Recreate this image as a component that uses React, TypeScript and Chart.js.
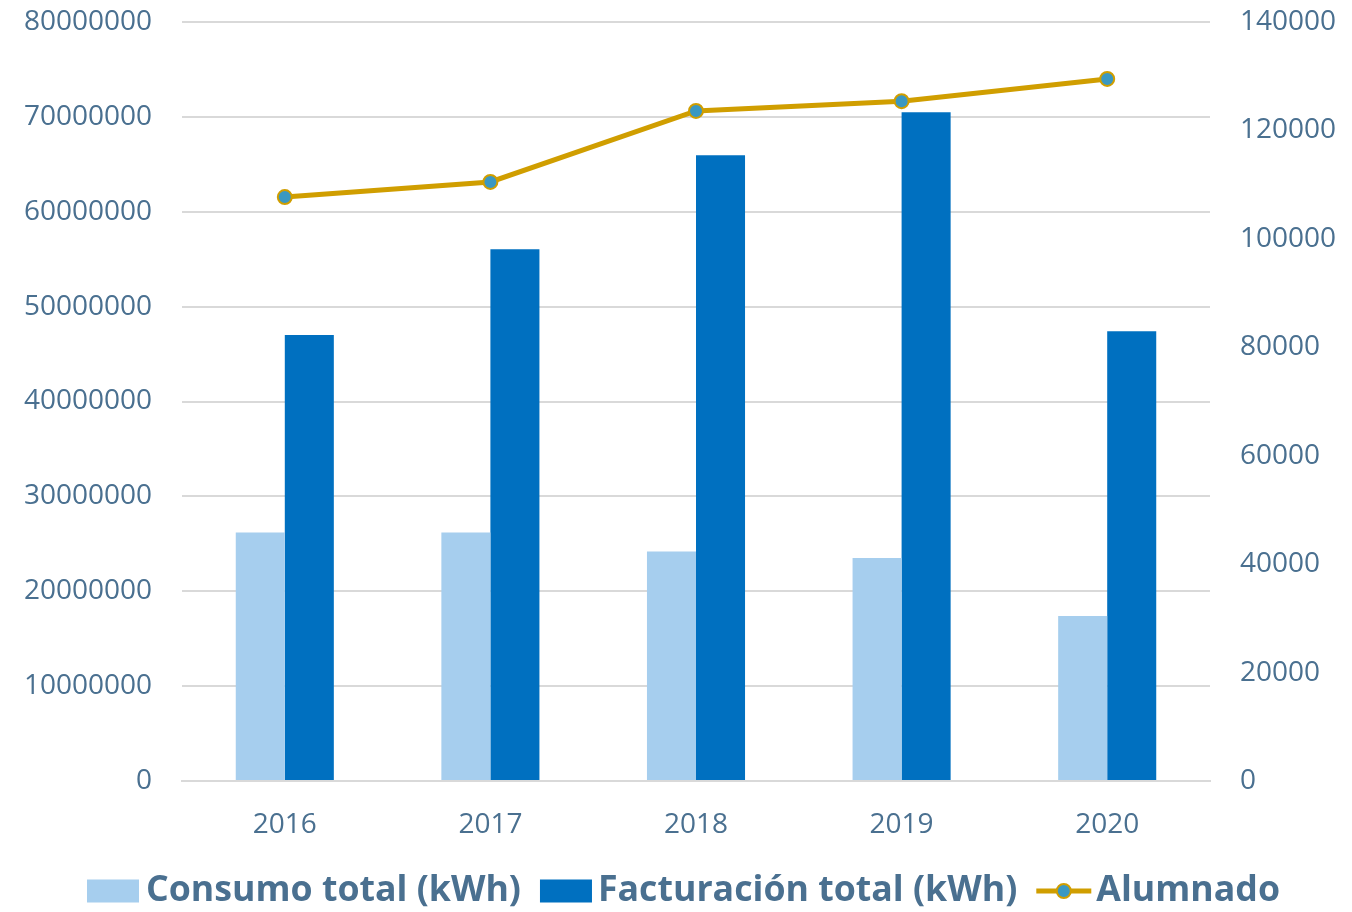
import React, { useEffect, useRef } from "react";
import { Chart, registerables } from "chart.js";

Chart.register(...registerables);

const categories = ["2016", "2017", "2018", "2019", "2020"];
const consumoTotal = [26200000, 26200000, 24200000, 23500000, 17400000];
const facturacionTotal = [47000000, 56050000, 65950000, 70500000, 47400000];
const alumnado = [107700, 110500, 123600, 125400, 129500];
const seriesNames = ["Consumo total (kWh)", "Facturación total (kWh)", "Alumnado"];

const TEXT = "#4A7090";
const C_LIGHT = "#A6CEEE";
const C_DARK = "#0070C0";
const C_LINE = "#D09E00";
const C_MARK = "#3A98C2";
const FONT = "'Open Sans', sans-serif";

const legendPlugin = {
  id: "customLegend",
  afterDraw(chart: any) {
    const ctx = chart.ctx as CanvasRenderingContext2D;
    ctx.save();
    ctx.font = `bold 35.7px ${FONT}`;
    ctx.textBaseline = "middle";
    const cy = 891;
    const boxW = 52;
    const boxH = 23;
    const lineW = 55;
    const gapText = [7, 6, 5];
    const gapItem = 19;
    const widths = seriesNames.map((n, i) => (i < 2 ? boxW : lineW) + gapText[i] + ctx.measureText(n).width);
    const total = widths.reduce((a, b) => a + b, 0) + gapItem * (widths.length - 1);
    let x = 683.5 - total / 2;
    seriesNames.forEach((name, i) => {
      if (i < 2) {
        ctx.fillStyle = i === 0 ? C_LIGHT : C_DARK;
        ctx.fillRect(x, cy - boxH / 2, boxW, boxH);
        x += boxW + gapText[i];
      } else {
        ctx.strokeStyle = C_LINE;
        ctx.lineWidth = 5;
        ctx.beginPath();
        ctx.moveTo(x, cy);
        ctx.lineTo(x + lineW, cy);
        ctx.stroke();
        ctx.beginPath();
        ctx.arc(x + lineW / 2, cy, 7, 0, Math.PI * 2);
        ctx.fillStyle = C_MARK;
        ctx.fill();
        ctx.lineWidth = 2;
        ctx.strokeStyle = C_LINE;
        ctx.stroke();
        x += lineW + gapText[i];
      }
      ctx.fillStyle = TEXT;
      ctx.textAlign = "left";
      ctx.fillText(name, x, cy);
      x += ctx.measureText(name).width + gapItem;
    });
    ctx.restore();
  },
};

const plain = (v: any) => String(v);

export default function App() {
  const ref = useRef<HTMLCanvasElement>(null);
  useEffect(() => {
    if (!ref.current) return;
    const chart = new Chart(ref.current, {
      type: "bar",
      data: {
        labels: categories,
        datasets: [
          {
            type: "line",
            label: seriesNames[2],
            data: alumnado,
            yAxisID: "y1",
            borderColor: C_LINE,
            borderWidth: 5,
            pointRadius: 7,
            pointBackgroundColor: C_MARK,
            pointBorderColor: C_LINE,
            pointBorderWidth: 2,
            tension: 0,
            order: 0,
          } as any,
          {
            type: "bar",
            label: seriesNames[0],
            data: consumoTotal,
            backgroundColor: C_LIGHT,
            yAxisID: "y",
            categoryPercentage: 0.477,
            barPercentage: 1,
            order: 1,
          },
          {
            type: "bar",
            label: seriesNames[1],
            data: facturacionTotal,
            backgroundColor: C_DARK,
            yAxisID: "y",
            categoryPercentage: 0.477,
            barPercentage: 1,
            order: 1,
          },
        ],
      },
      options: {
        animation: false,
        responsive: true,
        maintainAspectRatio: false,
        layout: { padding: { top: 22, left: 0, right: 0, bottom: 0 } },
        plugins: { legend: { display: false }, tooltip: { enabled: false } },
        scales: {
          x: {
            grid: { display: false, drawTicks: false },
            border: { display: true, color: "#D9D9D9", width: 2 },
            ticks: { color: TEXT, font: { family: FONT, size: 28 }, padding: 27 },
            afterFit: (s: any) => {
              s.height = 131;
              s.paddingLeft = 0;
              s.paddingRight = 0;
            },
          },
          y: {
            position: "left",
            min: 0,
            max: 80000000,
            ticks: { stepSize: 10000000, color: TEXT, font: { family: FONT, size: 28 }, padding: 30, callback: plain },
            grid: { color: "#D9D9D9", lineWidth: 2, drawTicks: false },
            border: { display: false },
            afterFit: (s: any) => {
              s.width = 182;
              s.paddingTop = 0;
              s.paddingBottom = 0;
            },
          },
          y1: {
            position: "right",
            min: 0,
            max: 140000,
            ticks: { stepSize: 20000, color: TEXT, font: { family: FONT, size: 28 }, padding: 30, callback: plain },
            grid: { display: false, drawTicks: false },
            border: { display: false },
            afterFit: (s: any) => {
              s.width = 142;
              s.paddingTop = 0;
              s.paddingBottom = 0;
            },
          },
        },
      },
      plugins: [legendPlugin],
    });
    return () => chart.destroy();
  }, []);
  return (
    <div style={{ position: "fixed", left: 0, top: 0, width: 1352, height: 912, background: "#fff" }}>
      <canvas ref={ref} />
    </div>
  );
}
